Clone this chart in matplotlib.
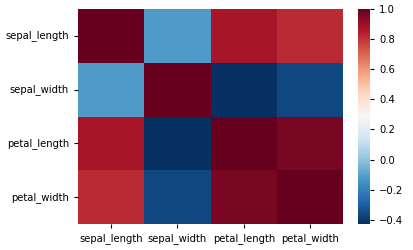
import numpy as np
import pandas as pd
import matplotlib
matplotlib.use("Agg")
import matplotlib.pyplot as plt
import seaborn as sns

labels = ["sepal_length", "sepal_width", "petal_length", "petal_width"]
row_sl = [1.000, -0.118, 0.872, 0.818]
row_sw = [-0.118, 1.000, -0.428, -0.366]
row_pl = [0.872, -0.428, 1.000, 0.963]
row_pw = [0.818, -0.366, 0.963, 1.000]

corr = pd.DataFrame([row_sl, row_sw, row_pl, row_pw], index=labels, columns=labels)

fig = plt.figure(figsize=(4.13, 2.5), dpi=100)
ax = fig.add_axes([0.189, 0.104, 0.642, 0.86])
cax = fig.add_axes([0.867, 0.104, 0.029, 0.86])
sns.heatmap(corr, cmap="RdBu_r", ax=ax, cbar_ax=cax)
ax.tick_params(labelsize=7.2, length=3)
cax.tick_params(labelsize=7.2, length=3)
plt.setp(ax.get_yticklabels(), rotation=0)
plt.setp(ax.get_xticklabels(), rotation=0)
fig.savefig("out.png", dpi=100)
